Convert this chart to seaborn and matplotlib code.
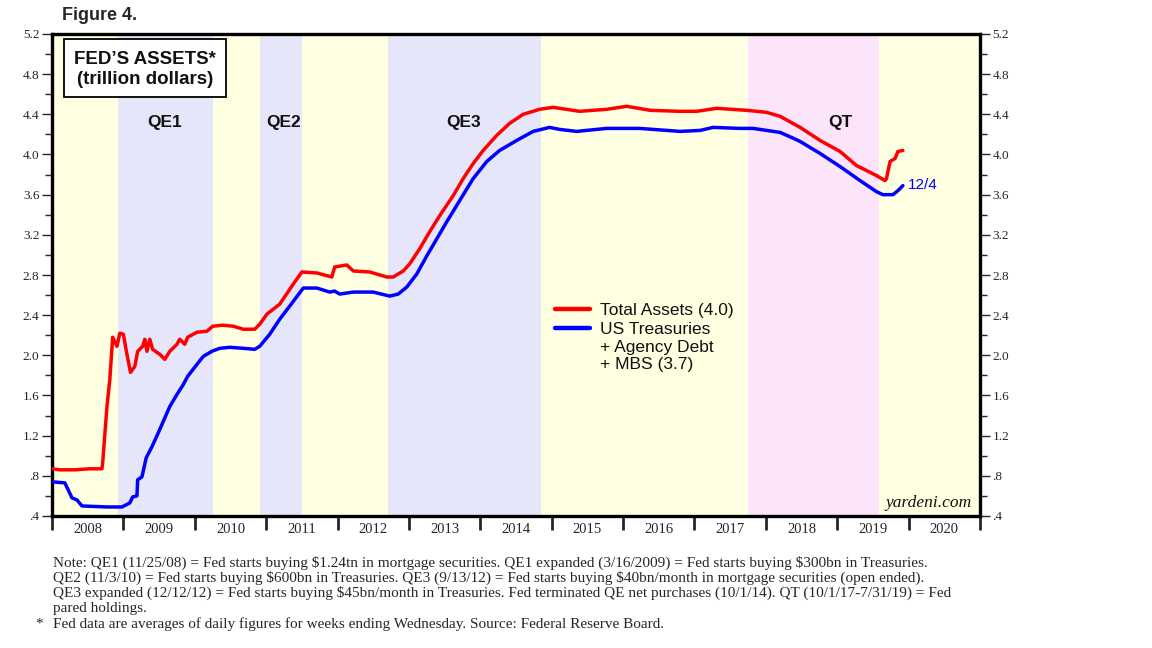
import matplotlib
matplotlib.use("Agg")
import matplotlib.pyplot as plt
from matplotlib.patches import Rectangle
import numpy as np
import pandas as pd
import seaborn as sns
from matplotlib.ticker import FixedLocator, FuncFormatter, NullFormatter

# ---------------- data ----------------
total_years = [2008.00, 2008.11, 2008.32, 2008.53, 2008.70, 2008.71, 2008.77, 2008.81, 2008.85,
               2008.91, 2008.95, 2009.00, 2009.05, 2009.10, 2009.16, 2009.20, 2009.27, 2009.30,
               2009.33, 2009.37, 2009.41, 2009.51, 2009.58, 2009.65, 2009.75, 2009.79, 2009.86,
               2009.90, 2010.03, 2010.17, 2010.25, 2010.39, 2010.54, 2010.68, 2010.84, 2010.91,
               2011.01, 2011.19, 2011.38, 2011.50, 2011.71, 2011.92, 2011.96, 2012.13, 2012.22,
               2012.45, 2012.69, 2012.78, 2012.92, 2013.01, 2013.15, 2013.29, 2013.43, 2013.62,
               2013.76, 2013.90, 2014.04, 2014.23, 2014.41, 2014.60, 2014.83, 2015.02, 2015.39,
               2015.77, 2016.05, 2016.38, 2016.80, 2017.03, 2017.31, 2017.73, 2018.01, 2018.20,
               2018.48, 2018.76, 2019.04, 2019.27, 2019.55, 2019.67, 2019.69, 2019.74, 2019.81,
               2019.85, 2019.92]
total_assets = [0.87, 0.86, 0.86, 0.87, 0.87, 0.93, 1.49, 1.76, 2.18,
                2.09, 2.22, 2.21, 2.01, 1.83, 1.89, 2.04, 2.09, 2.16,
                2.04, 2.16, 2.06, 2.01, 1.96, 2.04, 2.11, 2.16, 2.11,
                2.18, 2.23, 2.24, 2.29, 2.30, 2.29, 2.26, 2.26, 2.31,
                2.41, 2.51, 2.71, 2.83, 2.82, 2.78, 2.88, 2.90, 2.84,
                2.83, 2.78, 2.78, 2.84, 2.91, 3.06, 3.23, 3.39, 3.59,
                3.76, 3.91, 4.04, 4.19, 4.31, 4.40, 4.45, 4.47, 4.43,
                4.45, 4.48, 4.44, 4.43, 4.43, 4.46, 4.44, 4.42, 4.38,
                4.27, 4.14, 4.03, 3.89, 3.79, 3.74, 3.76, 3.93, 3.96,
                4.03, 4.04]

tsy_years = [2008.00, 2008.18, 2008.28, 2008.35, 2008.42, 2008.77, 2008.98, 2009.09, 2009.13,
             2009.19, 2009.20, 2009.26, 2009.32, 2009.40, 2009.49, 2009.57, 2009.65, 2009.75,
             2009.84, 2009.90, 2010.03, 2010.12, 2010.24, 2010.35, 2010.49, 2010.68, 2010.84,
             2010.91, 2011.05, 2011.19, 2011.33, 2011.52, 2011.71, 2011.89, 2011.96, 2012.03,
             2012.22, 2012.50, 2012.73, 2012.85, 2012.97, 2013.11, 2013.25, 2013.39, 2013.53,
             2013.71, 2013.90, 2014.09, 2014.27, 2014.51, 2014.74, 2014.97, 2015.11, 2015.35,
             2015.77, 2016.23, 2016.80, 2017.08, 2017.26, 2017.63, 2017.82, 2018.01, 2018.20,
             2018.39, 2018.48, 2018.76, 2019.04, 2019.32, 2019.55, 2019.64, 2019.78, 2019.85,
             2019.92]
tsy_assets = [0.74, 0.73, 0.58, 0.56, 0.50, 0.49, 0.49, 0.53, 0.59,
              0.60, 0.76, 0.79, 0.98, 1.09, 1.23, 1.36, 1.49, 1.61,
              1.71, 1.79, 1.91, 1.99, 2.04, 2.07, 2.08, 2.07, 2.06,
              2.09, 2.21, 2.36, 2.49, 2.67, 2.67, 2.63, 2.64, 2.61,
              2.63, 2.63, 2.59, 2.61, 2.68, 2.81, 2.99, 3.16, 3.33,
              3.54, 3.76, 3.93, 4.04, 4.14, 4.23, 4.27, 4.25, 4.23,
              4.26, 4.26, 4.23, 4.24, 4.27, 4.26, 4.26, 4.24, 4.22,
              4.16, 4.13, 4.01, 3.88, 3.74, 3.63, 3.60, 3.60, 3.64,
              3.69]

series_names = ["Total Assets (4.0)", "US Treasuries"]
series_colors = ["#FF0000", "#0000FF"]

period_names = ["QE1", "QE2", "QE3", "QT"]
period_starts = [2008.92, 2010.91, 2012.71, 2017.75]
period_ends = [2010.25, 2011.50, 2014.85, 2019.58]
period_colors = ["#E6E6FA", "#E6E6FA", "#E6E6FA", "#FCE4FA"]
period_label_x = [2009.58, 2011.24, 2013.76, 2019.04]
period_label_y = 4.32

year_labels = [str(y) for y in range(2008, 2021)]
y_major = [0.4, 0.8, 1.2, 1.6, 2.0, 2.4, 2.8, 3.2, 3.6, 4.0, 4.4, 4.8, 5.2]
y_minor = [0.6, 1.0, 1.4, 1.8, 2.2, 2.6, 3.0, 3.4, 3.8, 4.2, 4.6, 5.0]

notes = [
    "Note: QE1 (11/25/08) = Fed starts buying \\$1.24tn in mortgage securities. QE1 expanded (3/16/2009) = Fed starts buying \\$300bn in Treasuries.",
    "QE2 (11/3/10) = Fed starts buying \\$600bn in Treasuries. QE3 (9/13/12) = Fed starts buying \\$40bn/month in mortgage securities (open ended).",
    "QE3 expanded (12/12/12) = Fed starts buying \\$45bn/month in Treasuries. Fed terminated QE net purchases (10/1/14). QT (10/1/17-7/31/19) = Fed",
    "pared holdings.",
]
footnote = "Fed data are averages of daily figures for weeks ending Wednesday. Source: Federal Reserve Board."

# ---------------- figure ----------------
sns.set_style("white")
plt.rcParams["font.family"] = ["Liberation Sans", "DejaVu Sans"]

W, H = 1152, 648
fig = plt.figure(figsize=(W / 100, H / 100), dpi=100)
fig.patch.set_facecolor("white")

AX_L, AX_R, AX_T, AX_B = 52, 980, 34, 516


def fx(px):
    return px / W


def fy(py):
    return 1 - py / H


def axx(px):
    return (px - AX_L) / (AX_R - AX_L)


def axy(py):
    return (AX_B - py) / (AX_B - AX_T)


ax = fig.add_axes([fx(AX_L), fy(AX_B), (AX_R - AX_L) / W, (AX_B - AX_T) / H])
ax.set_facecolor("#FFFFE2")

for s, e, c in zip(period_starts, period_ends, period_colors):
    ax.axvspan(s, e, color=c, lw=0, zorder=0)

df = pd.concat([
    pd.DataFrame({"year": total_years, "value": total_assets, "series": series_names[0]}),
    pd.DataFrame({"year": tsy_years, "value": tsy_assets, "series": series_names[1]}),
])
sns.lineplot(data=df, x="year", y="value", hue="series", palette=series_colors,
             hue_order=series_names, sort=False, estimator=None, lw=2.5, legend=False,
             ax=ax, zorder=3)

ax.set_xlim(2008, 2021)
ax.set_ylim(0.4, 5.2)
ax.set_xlabel("")
ax.set_ylabel("")

# y axis ticks on both sides
ax.yaxis.set_major_locator(FixedLocator(y_major))
ax.yaxis.set_minor_locator(FixedLocator(y_minor))
ax.yaxis.set_major_formatter(FuncFormatter(lambda v, p: (f"{v:.1f}" if v >= 1 else f"{v:.1f}"[1:])))
ax.tick_params(axis="y", which="both", left=True, right=True, labelleft=True, labelright=True,
               direction="out", width=1, labelsize=9.5, pad=2)
ax.tick_params(axis="y", which="major", length=7)
ax.tick_params(axis="y", which="minor", length=5)
for lab in ax.get_yticklabels():
    lab.set_fontfamily("Liberation Serif")

# x axis: year boundaries as major ticks, labels at mid-year
ax.xaxis.set_major_locator(FixedLocator(list(range(2008, 2022))))
ax.xaxis.set_major_formatter(NullFormatter())
ax.xaxis.set_minor_locator(FixedLocator([y + 0.5 for y in range(2008, 2021)]))
ax.xaxis.set_minor_formatter(FuncFormatter(lambda v, p: year_labels[int(v - 2008)]))
ax.tick_params(axis="x", which="major", bottom=True, top=False, direction="out", length=10, width=2)
ax.tick_params(axis="x", which="minor", bottom=True, length=0, labelsize=10.5, pad=5)
for lab in ax.get_xticklabels(minor=True):
    lab.set_fontfamily("Liberation Serif")

for sp in ax.spines.values():
    sp.set_visible(True)
    sp.set_color("black")
    sp.set_linewidth(2.4)

# period labels
for name, x in zip(period_names, period_label_x):
    ax.text(x, period_label_y, name, ha="center", va="center", fontsize=12.5,
            fontweight="bold", color="#111111", zorder=4)

# title box
ax.add_patch(Rectangle((axx(64), axy(97)), axx(226) - axx(64), axy(39) - axy(97),
                       transform=ax.transAxes, fc="white", ec="black", lw=1.3, zorder=5))
ax.text(axx(145), axy(59), "FED\u2019S ASSETS*", transform=ax.transAxes,
        ha="center", va="center", fontsize=13.5, fontweight="bold", color="#111111", zorder=6)
ax.text(axx(145), axy(79), "(trillion dollars)", transform=ax.transAxes,
        ha="center", va="center", fontsize=13.5, fontweight="bold", color="#111111", zorder=6)

# legend
handles = ax.get_lines()[:2]
leg = ax.legend(handles, series_names, loc="upper left",
                bbox_to_anchor=(fx(555), fy(303)), bbox_transform=fig.transFigure,
                frameon=False, fontsize=12.5, handlelength=2.0, handletextpad=0.6,
                labelspacing=0.22, borderpad=0, borderaxespad=0)
for t in leg.get_texts():
    t.set_color("#111111")
for l in leg.get_lines():
    l.set_linewidth(3.2)
fig.text(fx(600), fy(347), "+ Agency Debt", fontsize=12.5, va="center", ha="left", color="#111111")
fig.text(fx(600), fy(365), "+ MBS (3.7)", fontsize=12.5, va="center", ha="left", color="#111111")

# end label
ax.text(2019.99, 3.70, "12/4", color="#0000FF", fontsize=11, ha="left", va="center")

# watermark
ax.text(axx(972), axy(503), "yardeni.com",
        transform=ax.transAxes, ha="right", va="center", fontsize=12.5,
        fontstyle="italic", fontfamily="Liberation Serif", color="#111111")

# figure title
fig.text(fx(62), fy(15), "Figure 4.", fontsize=13, fontweight="bold", ha="left", va="center")

# notes
for i, line in enumerate(notes):
    fig.text(fx(53), fy(563 + 15.2 * i), line, fontsize=11, fontfamily="Liberation Serif",
             ha="left", va="center")
fig.text(fx(35), fy(624), "*", fontsize=11, fontfamily="Liberation Serif", ha="left", va="center")
fig.text(fx(53), fy(624), footnote, fontsize=11, fontfamily="Liberation Serif", ha="left", va="center")

fig.savefig("out.png", dpi=100)
